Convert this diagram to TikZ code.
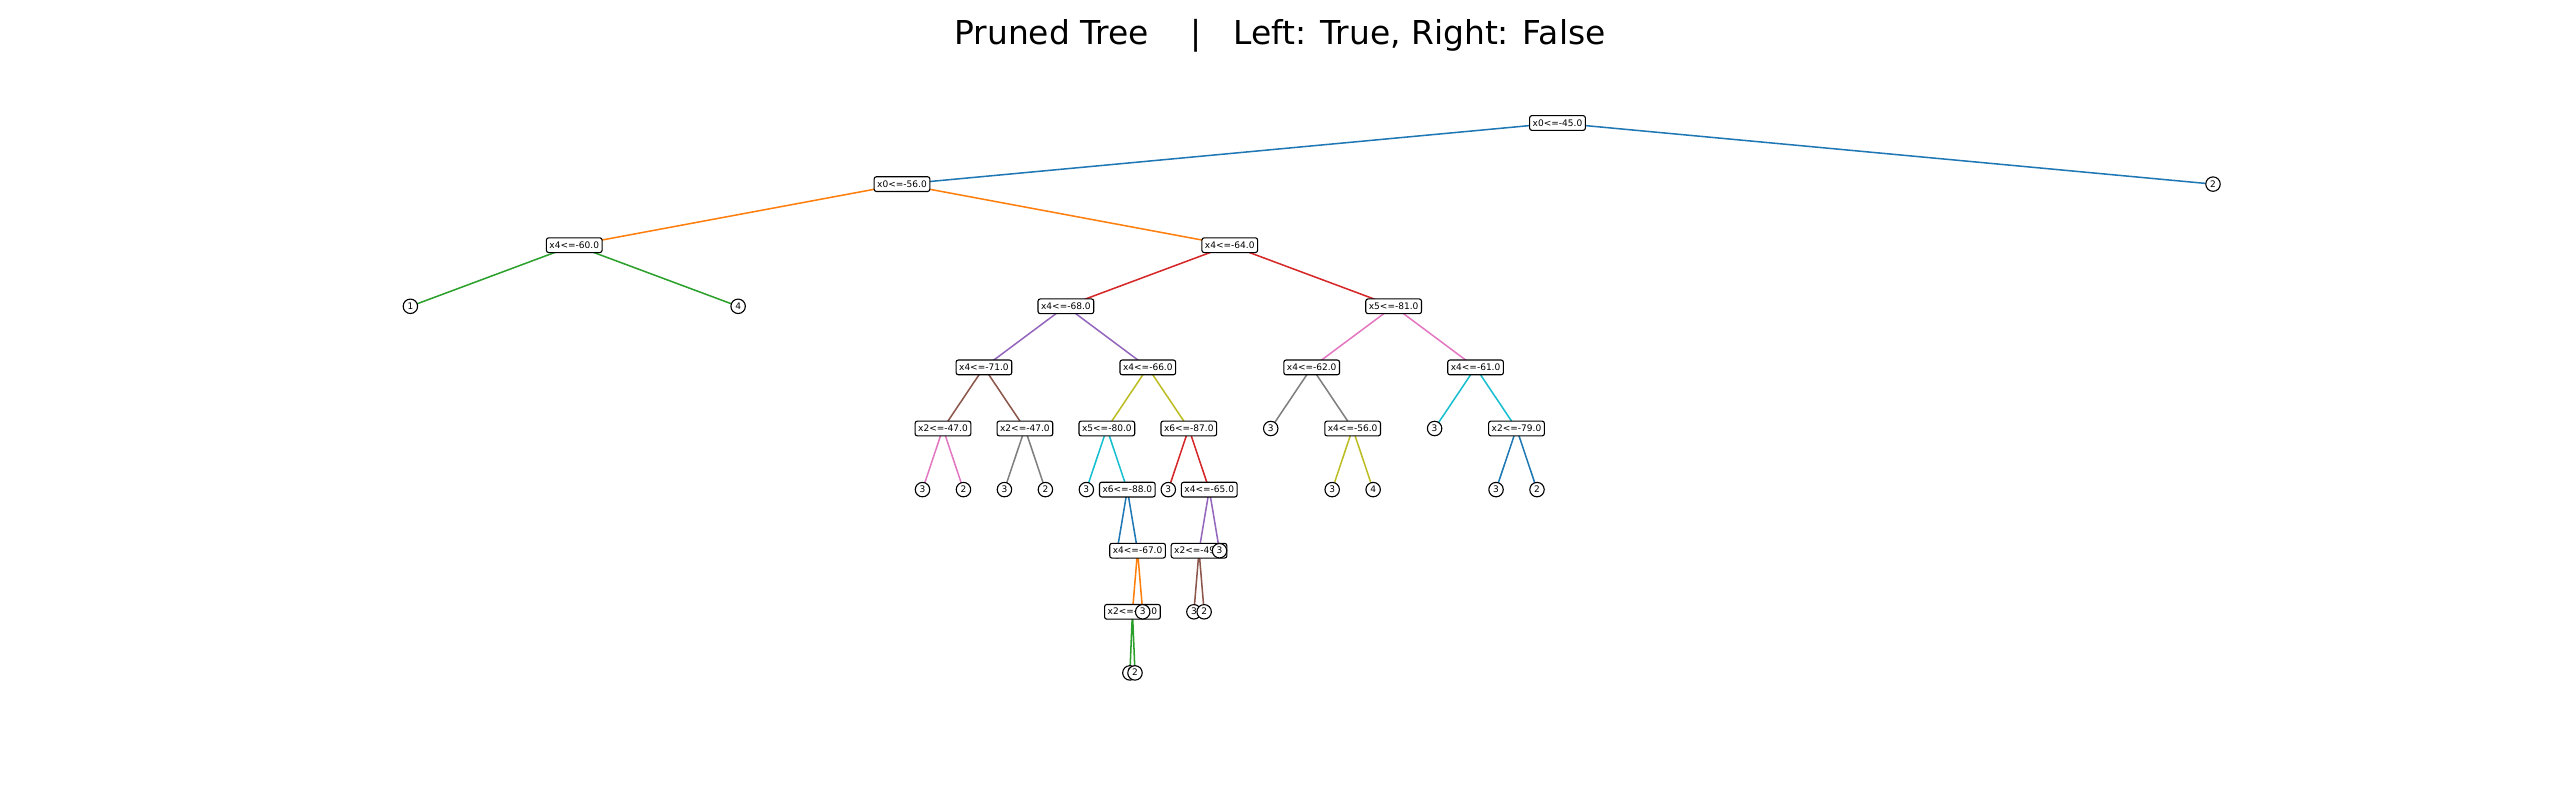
\documentclass[tikz,border=0pt]{standalone}
\usepackage{fontspec}
\setmainfont{DejaVu Sans}
\usetikzlibrary{backgrounds}
\definecolor{tblue}{HTML}{1F77B4}
\definecolor{torange}{HTML}{FF7F0E}
\definecolor{tgreen}{HTML}{2CA02C}
\definecolor{tred}{HTML}{D62728}
\definecolor{tpurple}{HTML}{9467BD}
\definecolor{tbrown}{HTML}{8C564B}
\definecolor{tpink}{HTML}{E377C2}
\definecolor{tgray}{HTML}{7F7F7F}
\definecolor{tolive}{HTML}{BCBD22}
\definecolor{tcyan}{HTML}{17BECF}
\newcommand\tnfont{\fontsize{6.5bp}{7.8bp}\selectfont}
\newcommand\ttlfont{\fontsize{23.7bp}{28bp}\selectfont}
\begin{document}
\begin{tikzpicture}[x=0.72bp,y=-0.72bp,
  split/.style={draw=black, line width=0.8bp, fill=white, rounded corners=1.6bp,
    inner xsep=2.2bp, inner ysep=0pt, minimum height=10.6bp,
    text height=4.75bp, text depth=0.3bp, font=\tnfont},
  leaf/.style={draw=black, line width=0.8bp, fill=white, circle, inner sep=0pt,
    minimum size=10.4bp, text height=4.75bp, text depth=0.3bp, font=\tnfont},
  edge/.style={line width=1.1bp}]
\useasboundingbox (0,0) rectangle (2560,800);
\node[anchor=base, font=\ttlfont] (title) at (1280,44) {Pruned Tree\ \ \ \ |\ \ \ Left: True, Right: False};
% level 0
\node[split] (R) at (1557.5,123) {x0<=-45.0};
% level 1
\node[split] (A) at (902,184.1) {x0<=-56.0};
\node[leaf] (R2) at (2213,184.1) {2};
% level 2
\node[split] (B) at (574.25,245.2) {x4<=-60.0};
\node[split] (C) at (1229.75,245.2) {x4<=-64.0};
% level 3
\node[leaf] (B1) at (410.375,306.3) {1};
\node[leaf] (B2) at (738.125,306.3) {4};
\node[split] (D) at (1065.875,306.3) {x4<=-68.0};
\node[split] (E) at (1393.625,306.3) {x5<=-81.0};
% level 4
\node[split] (F) at (983.94,367.4) {x4<=-71.0};
\node[split] (G) at (1147.81,367.4) {x4<=-66.0};
\node[split] (H) at (1311.69,367.4) {x4<=-62.0};
\node[split] (I) at (1475.56,367.4) {x4<=-61.0};
% level 5
\node[split] (J) at (942.97,428.5) {x2<=-47.0};
\node[split] (K) at (1024.91,428.5) {x2<=-47.0};
\node[split] (L) at (1106.84,428.5) {x5<=-80.0};
\node[split] (M) at (1188.78,428.5) {x6<=-87.0};
\node[leaf] (H1) at (1270.73,428.5) {3};
\node[split] (T) at (1352.65,428.5) {x4<=-56.0};
\node[leaf] (I1) at (1434.60,428.5) {3};
\node[split] (U) at (1516.52,428.5) {x2<=-79.0};
% level 6
\node[leaf] (J1) at (922.49,489.6) {3};
\node[leaf] (J2) at (963.45,489.6) {2};
\node[leaf] (K1) at (1004.43,489.6) {3};
\node[leaf] (K2) at (1045.39,489.6) {2};
\node[leaf] (L1) at (1086.36,489.6) {3};
\node[split] (N) at (1127.32,489.6) {x6<=-88.0};
\node[leaf] (M1) at (1168.30,489.6) {3};
\node[split] (O) at (1209.26,489.6) {x4<=-65.0};
\node[leaf] (T1) at (1332.17,489.6) {3};
\node[leaf] (T2) at (1373.13,489.6) {4};
\node[leaf] (U1) at (1496.04,489.6) {3};
\node[leaf] (U2) at (1537.00,489.6) {2};
% level 7
\node[leaf] (N1) at (1117.08,550.7) {3};
\node[split] (P) at (1137.56,550.7) {x4<=-67.0};
\node[split] (Q) at (1199.02,550.7) {x2<=-49.0};
\node[leaf] (O2) at (1219.50,550.7) {3};
% level 8
\node[split] (S) at (1132.44,611.8) {x2<=-51.0};
\node[leaf] (P2) at (1142.68,611.8) {3};
\node[leaf] (Q1) at (1193.90,611.8) {3};
\node[leaf] (Q2) at (1204.14,611.8) {2};
% level 9
\node[leaf] (S1) at (1129.88,672.9) {3};
\node[leaf] (S2) at (1135.00,672.9) {2};
\begin{scope}[on background layer]
\draw[edge,tblue] (R.center) -- (A.center) (R.center) -- (R2.center);
\draw[edge,torange] (A.center) -- (B.center) (A.center) -- (C.center);
\draw[edge,tgreen] (B.center) -- (B1.center) (B.center) -- (B2.center);
\draw[edge,tred] (C.center) -- (D.center) (C.center) -- (E.center);
\draw[edge,tpurple] (D.center) -- (F.center) (D.center) -- (G.center);
\draw[edge,tbrown] (F.center) -- (J.center) (F.center) -- (K.center);
\draw[edge,tpink] (J.center) -- (J1.center) (J.center) -- (J2.center);
\draw[edge,tgray] (K.center) -- (K1.center) (K.center) -- (K2.center);
\draw[edge,tolive] (G.center) -- (L.center) (G.center) -- (M.center);
\draw[edge,tcyan] (L.center) -- (L1.center) (L.center) -- (N.center);
\draw[edge,tblue] (N.center) -- (N1.center) (N.center) -- (P.center);
\draw[edge,torange] (P.center) -- (S.center) (P.center) -- (P2.center);
\draw[edge,tgreen] (S.center) -- (S1.center) (S.center) -- (S2.center);
\draw[edge,tred] (M.center) -- (M1.center) (M.center) -- (O.center);
\draw[edge,tpurple] (O.center) -- (Q.center) (O.center) -- (O2.center);
\draw[edge,tbrown] (Q.center) -- (Q1.center) (Q.center) -- (Q2.center);
\draw[edge,tpink] (E.center) -- (H.center) (E.center) -- (I.center);
\draw[edge,tgray] (H.center) -- (H1.center) (H.center) -- (T.center);
\draw[edge,tolive] (T.center) -- (T1.center) (T.center) -- (T2.center);
\draw[edge,tcyan] (I.center) -- (I1.center) (I.center) -- (U.center);
\draw[edge,tblue] (U.center) -- (U1.center) (U.center) -- (U2.center);
\end{scope}
\end{tikzpicture}
\end{document}
